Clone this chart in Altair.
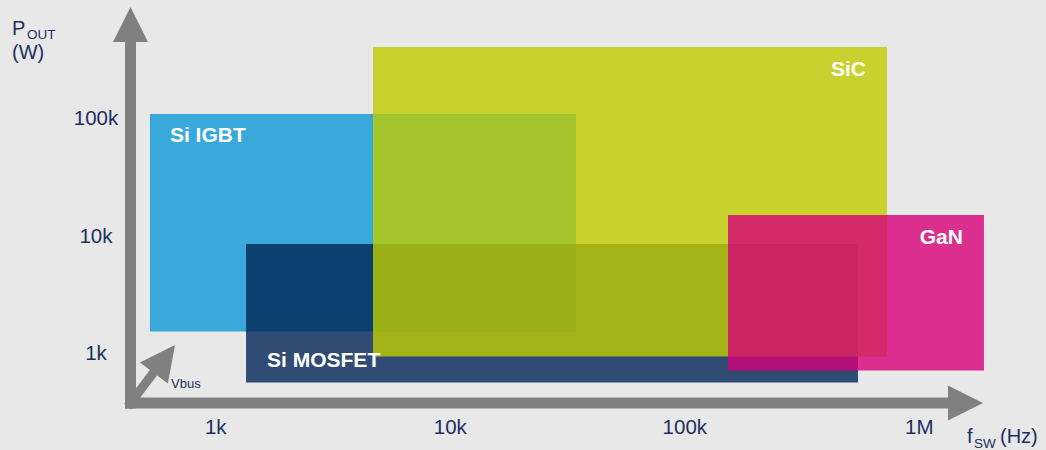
import altair as alt
import pandas as pd

# ---- data (frequency in Hz, output power in W) ----
devices = ["Si IGBT", "Si MOSFET", "SiC", "GaN"]
f_low = [524, 1346, 4682, 152800]
f_high = [34360, 547500, 727800, 1886000]
p_low = [1534, 566, 941, 716]
p_high = [107700, 8487, 399000, 14960]
colors = ["#39a9dc", "#022456", "#bfcc00", "#d60078"]
opacities = [1.0, 0.8, 0.8, 0.8]

x_ticks = [1e3, 1e4, 1e5, 1e6]
x_tick_labels = ["1k", "10k", "100k", "1M"]
y_ticks = [1e3, 1e4, 1e5]
y_tick_labels = ["1k", "10k", "100k"]

# axis arrows (data units)
origin_f, origin_p = 433, 380
x_head_base_f, x_head_tip_f = 1312000, 1868000
y_head_base_p, y_head_tip_p = 440000, 872000
vbus_base_f, vbus_base_p = 545, 695
vbus_tip_f, vbus_tip_p = 670, 1178

NAVY = "#1c3160"
GRAY = "#808080"
FONT = "Liberation Sans"

xs = alt.Scale(type="log", domain=[10 ** 2.08, 10 ** 6.54], nice=False)
ys = alt.Scale(type="log", domain=[10 ** 2.18, 10 ** 6], nice=False)

rects = pd.DataFrame({"dev": devices, "f1": f_low, "f2": f_high,
                      "p1": p_low, "p2": p_high, "col": colors, "op": opacities})

rect_layer = alt.Chart(rects).mark_rect().encode(
    x=alt.X("f1:Q", scale=xs, axis=None),
    x2="f2:Q",
    y=alt.Y("p1:Q", scale=ys, axis=None),
    y2="p2:Q",
    color=alt.Color("col:N", scale=None),
    opacity=alt.Opacity("op:Q", scale=None),
)

# labels inside boxes
lbl_style = dict(font=FONT, fontWeight="bold", fontSize=21, color="white", baseline="middle")
igbt_lbl = alt.Chart(rects).transform_filter(alt.datum.dev == "Si IGBT").mark_text(
    align="left", dx=20, dy=22, **lbl_style).encode(
    x=alt.X("f1:Q", scale=xs, axis=None), y=alt.Y("p2:Q", scale=ys, axis=None), text="dev:N")
mos_lbl = alt.Chart(rects).transform_filter(alt.datum.dev == "Si MOSFET").mark_text(
    align="left", dx=21, dy=-22, **lbl_style).encode(
    x=alt.X("f1:Q", scale=xs, axis=None), y=alt.Y("p1:Q", scale=ys, axis=None), text="dev:N")
right_lbl = alt.Chart(rects).transform_filter(
    (alt.datum.dev == "SiC") | (alt.datum.dev == "GaN")).mark_text(
    align="right", dx=-21, dy=23, **lbl_style).encode(
    x=alt.X("f2:Q", scale=xs, axis=None), y=alt.Y("p2:Q", scale=ys, axis=None), text="dev:N")

# arrows
shafts = pd.DataFrame({
    "f1": [origin_f, origin_f, origin_f],
    "p1": [origin_p, origin_p, origin_p],
    "f2": [origin_f, x_head_base_f, vbus_base_f],
    "p2": [y_head_base_p, origin_p, vbus_base_p],
    "w": [11, 11, 9],
})
shaft_layer = alt.Chart(shafts).mark_rule(color=GRAY, strokeCap="square").encode(
    x=alt.X("f1:Q", scale=xs, axis=None), x2="f2:Q",
    y=alt.Y("p1:Q", scale=ys, axis=None), y2="p2:Q",
    strokeWidth=alt.StrokeWidth("w:Q", scale=None),
)
heads = pd.DataFrame({
    "f": [origin_f, x_head_tip_f, vbus_tip_f],
    "p": [y_head_tip_p, origin_p, vbus_tip_p],
    "ang": [0, 90, 37],
})
head_layer = alt.Chart(heads).mark_point(
    shape="M0,0L-1,2L1,2Z", size=1225, filled=True, opacity=1, color=GRAY, strokeWidth=0
).encode(
    x=alt.X("f:Q", scale=xs, axis=None),
    y=alt.Y("p:Q", scale=ys, axis=None),
    angle=alt.Angle("ang:Q", scale=None),
)

# tick labels
xt = pd.DataFrame({"v": x_ticks, "t": x_tick_labels})
yt = pd.DataFrame({"v": y_ticks, "t": y_tick_labels})
tick_style = dict(font=FONT, fontSize=20.5, color=NAVY)
xt_layer = alt.Chart(xt).mark_text(align="center", baseline="alphabetic", **tick_style).encode(
    x=alt.X("v:Q", scale=xs, axis=None), y=alt.value(434), text="t:N")
yt_layer = alt.Chart(yt).mark_text(align="center", baseline="alphabetic", dy=7, **tick_style).encode(
    x=alt.value(96), y=alt.Y("v:Q", scale=ys, axis=None), text="t:N")

# axis titles
def txt(s, x, y, size, align="left"):
    return alt.Chart(pd.DataFrame({"t": [s]})).mark_text(
        font=FONT, fontSize=size, color=NAVY, align=align, baseline="alphabetic"
    ).encode(x=alt.value(x), y=alt.value(y), text="t:N")

titles = [
    txt("P", 12, 35, 20),
    txt("OUT", 27, 39, 13.5),
    txt("(W)", 12, 59, 20),
    txt("f", 967, 443, 20),
    txt("SW", 974, 448, 13.5),
    txt("(Hz)", 1000, 443, 20),
    txt("Vbus", 171, 388, 13),
]

chart = alt.layer(
    rect_layer, igbt_lbl, mos_lbl, right_lbl, shaft_layer, head_layer, xt_layer, yt_layer, *titles
).properties(
    width=1046, height=450, padding=0,
    autosize=alt.AutoSizeParams(type="none"),
    background="#e8e8e8",
).configure_view(stroke=None)

chart.save("out.html", embed_options={"renderer": "svg", "actions": False})
